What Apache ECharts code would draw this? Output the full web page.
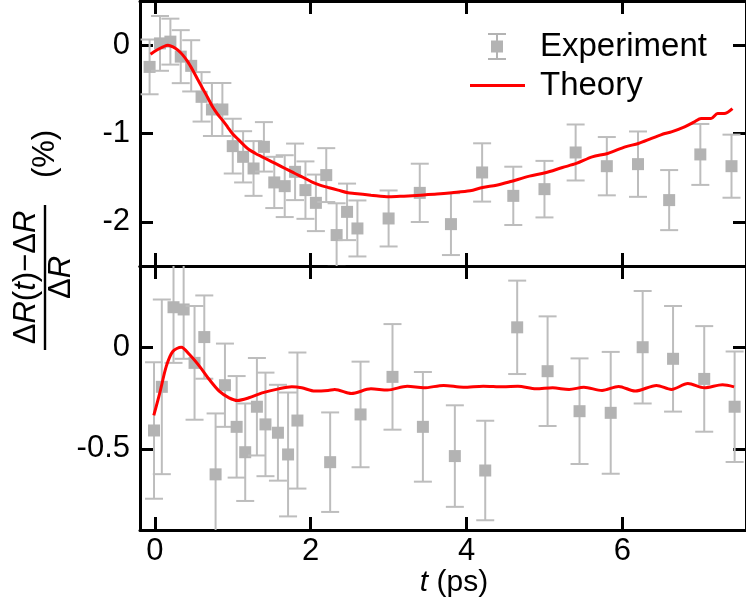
<!DOCTYPE html>
<html>
<head>
<meta charset="utf-8">
<script src="https://cdn.jsdelivr.net/npm/echarts@6/dist/echarts.min.js"></script>
<style>html,body{margin:0;padding:0;background:#fff;}#c{width:746px;height:609px;}</style>
</head>
<body>
<div id="c"></div>
<script>
// ---- data ----
const topT = [-0.067,0.067,0.2,0.333,0.467,0.6,0.733,0.867,1.0,1.133,1.267,1.4,1.533,1.667,1.8,1.933,2.067,2.2,2.333,2.467,2.6,3.0,3.4,3.8,4.2,4.6,5.0,5.4,5.8,6.2,6.6,7.0,7.4];
const topY = [-0.246,0.02,0.04,-0.13,-0.234,-0.585,-0.728,-0.728,-1.143,-1.264,-1.396,-1.151,-1.554,-1.596,-1.434,-1.641,-1.785,-1.471,-2.15,-1.887,-2.075,-1.962,-1.672,-2.026,-1.441,-1.706,-1.63,-1.215,-1.37,-1.347,-1.754,-1.237,-1.37];
const topErr = [0.31,0.31,0.26,0.30,0.29,0.28,0.30,0.30,0.31,0.29,0.31,0.28,0.29,0.35,0.32,0.325,0.32,0.305,0.36,0.32,0.317,0.317,0.33,0.35,0.33,0.33,0.32,0.317,0.33,0.37,0.34,0.345,0.357];

const botT = [-0.01,0.09,0.24,0.37,0.51,0.635,0.78,0.9,1.05,1.16,1.31,1.42,1.58,1.71,1.83,2.25,2.64,3.05,3.44,3.85,4.24,4.65,5.04,5.45,5.85,6.26,6.65,7.05,7.44];
const botY = [-0.41,-0.195,0.197,0.186,-0.077,0.05,-0.626,-0.187,-0.392,-0.517,-0.293,-0.38,-0.421,-0.528,-0.361,-0.566,-0.331,-0.146,-0.392,-0.536,-0.607,0.098,-0.118,-0.315,-0.323,0.0,-0.057,-0.156,-0.293];
const botErr = [0.336,0.43,0.274,0.243,0.28,0.205,0.30,0.205,0.25,0.24,0.24,0.255,0.236,0.305,0.335,0.245,0.26,0.26,0.27,0.25,0.245,0.23,0.27,0.26,0.30,0.277,0.26,0.26,0.272];

const topTheoryT = [-0.055,0.021,0.106,0.169,0.233,0.296,0.36,0.424,0.487,0.551,0.614,0.678,0.741,0.805,0.868,0.932,0.995,1.08,1.144,1.207,1.292,1.377,1.461,1.546,1.631,1.715,1.8,1.906,2.012,2.118,2.224,2.351,2.478,2.563,2.774,3.007,3.198,3.41,3.621,3.812,4.045,4.206,4.384,4.553,4.807,5.011,5.231,5.409,5.612,5.811,6.036,6.205,6.374,6.544,6.629,6.798,6.925,7.01,7.137,7.222,7.306,7.412];
const topTheoryY = [-0.102,-0.057,-0.019,0,-0.019,-0.057,-0.113,-0.189,-0.283,-0.389,-0.49,-0.592,-0.698,-0.781,-0.849,-0.924,-1.0,-1.075,-1.132,-1.181,-1.226,-1.264,-1.302,-1.339,-1.377,-1.415,-1.453,-1.498,-1.547,-1.585,-1.611,-1.641,-1.671,-1.679,-1.698,-1.717,-1.709,-1.698,-1.686,-1.671,-1.649,-1.611,-1.585,-1.547,-1.483,-1.445,-1.385,-1.339,-1.264,-1.226,-1.151,-1.113,-1.056,-1.0,-0.981,-0.924,-0.868,-0.83,-0.83,-0.773,-0.773,-0.717];

const botTheoryT = [-0.013,0.064,0.148,0.233,0.339,0.445,0.572,0.699,0.826,0.953,1.059,1.207,1.377,1.588,1.758,1.885,2.054,2.224,2.308,2.478,2.52,2.774,2.986,3.24,3.452,3.706,3.96,4.214,4.468,4.659,4.892,5.104,5.316,5.506,5.739,5.951,6.163,6.438,6.629,6.84,7.052,7.285,7.433];
const botTheoryY = [-0.336,-0.225,-0.093,-0.02,0.0,-0.036,-0.093,-0.159,-0.216,-0.249,-0.262,-0.249,-0.225,-0.205,-0.195,-0.2,-0.216,-0.213,-0.208,-0.225,-0.228,-0.205,-0.211,-0.192,-0.2,-0.188,-0.197,-0.192,-0.195,-0.192,-0.205,-0.2,-0.208,-0.197,-0.213,-0.193,-0.216,-0.188,-0.208,-0.179,-0.2,-0.185,-0.195];

const xTicks = [0, 2, 4, 6];
const topYTicks = [-2, -1, 0];
const botYTicks = [-0.5, 0];

// ---- styling ----
const FONT = 'Liberation Sans, Arial, sans-serif';
const SQ = '#b3b3b3', BAR = '#bdbdbd', RED = '#ff0000';
const X_MIN = -0.19, X_MAX = 7.586;

function zip3(a, b, c) { return a.map((v, i) => [v, b[i], c[i]]); }
function zip2(a, b) { return a.map((v, i) => [v, b[i]]); }

function renderErr(params, api) {
  const x = api.value(0), y = api.value(1), e = api.value(2);
  const p = api.coord([x, y]);
  const hi = api.coord([x, y + e]);
  const lo = api.coord([x, y - e]);
  const cap = 9, half = 6;
  const ls = { stroke: BAR, lineWidth: 2 };
  return {
    type: 'group',
    children: [
      { type: 'line', shape: { x1: p[0], y1: hi[1], x2: p[0], y2: lo[1] }, style: ls },
      { type: 'line', shape: { x1: p[0] - cap, y1: hi[1], x2: p[0] + cap, y2: hi[1] }, style: ls },
      { type: 'line', shape: { x1: p[0] - cap, y1: lo[1], x2: p[0] + cap, y2: lo[1] }, style: ls },
      { type: 'rect', shape: { x: p[0] - half, y: p[1] - half, width: 2 * half, height: 2 * half }, style: { fill: SQ } }
    ]
  };
}

const lineStyle = { color: '#000', width: 3 };
const tickStyle = { color: '#000', width: 3 };

function xAx(grid, pos, labels) {
  const a = {
    type: 'value', gridIndex: grid, position: pos, min: X_MIN, max: X_MAX,
    axisLine: { show: true, onZero: false, lineStyle: lineStyle },
    axisTick: { show: true, inside: true, length: 13, lineStyle: tickStyle, customValues: xTicks },
    axisLabel: { show: labels, customValues: xTicks, fontSize: 31, fontFamily: FONT, color: '#000', margin: 6 },
    splitLine: { show: false }
  };
  if (labels) {
    a.name = '{i|t} (ps)';
    a.nameLocation = 'middle';
    a.nameGap = 38;
    a.nameTextStyle = { fontSize: 30, fontFamily: FONT, color: '#000', padding: [0, 0, 0, 22],
      rich: { i: { fontStyle: 'italic', fontSize: 30, fontFamily: FONT, color: '#000' } } };
  }
  return a;
}
function yAx(grid, pos, labels, min, max, ticks) {
  return {
    type: 'value', gridIndex: grid, position: pos, min: min, max: max,
    axisLine: { show: true, onZero: false, lineStyle: lineStyle },
    axisTick: { show: true, inside: true, length: 13, lineStyle: tickStyle, customValues: ticks },
    axisLabel: { show: labels, customValues: ticks, fontSize: 31, fontFamily: FONT, color: '#000', margin: 10 },
    splitLine: { show: false }
  };
}

const expIcon = 'path://M0,0h18v2h-18z M8,0h2v27h-2z M0,25h18v2h-18z M3,7.5h12v12h-12z';
const lineIcon = 'path://M0,0h55v3h-55z';
const italic = { fontStyle: 'italic', fontSize: 31, fontFamily: FONT, fill: '#000' };

const option = {
  animation: false,
  backgroundColor: '#fff',
  grid: [
    { left: 140, top: 1, width: 612, height: 265 },
    { left: 140, top: 266, width: 612, height: 264 }
  ],
  xAxis: [xAx(0, 'bottom', false), xAx(0, 'top', false), xAx(1, 'bottom', true), xAx(1, 'top', false)],
  yAxis: [
    yAx(0, 'left', true, -2.5, 0.5, topYTicks), yAx(0, 'right', false, -2.5, 0.5, topYTicks),
    yAx(1, 'left', true, -0.9, 0.4, botYTicks), yAx(1, 'right', false, -0.9, 0.4, botYTicks)
  ],
  legend: [
    { data: [{ name: 'Experiment', icon: expIcon }], left: 488, top: 30, padding: 0,
      itemWidth: 18, itemHeight: 27, selectedMode: false,
      textStyle: { fontSize: 33, fontFamily: FONT, color: '#000', padding: [0, 0, 0, 29] } },
    { data: [{ name: 'Theory', icon: lineIcon }], left: 470, top: 69, padding: 0,
      itemWidth: 55, itemHeight: 3, selectedMode: false,
      itemStyle: { color: RED, borderWidth: 0 },
      textStyle: { fontSize: 33, fontFamily: FONT, color: '#000', padding: [0, 0, 0, 10] } }
  ],
  graphic: [{
    type: 'group', x: 45, y: 277.5, rotation: Math.PI / 2,
    children: [
      { type: 'text', x: 0, y: -19, style: { text: 'Δ{i|R}({i|t})−Δ{i|R}', fontSize: 31, fontFamily: FONT, fill: '#000',
          align: 'center', verticalAlign: 'middle', rich: { i: italic } } },
      { type: 'rect', shape: { x: -72.5, y: -1.2, width: 145, height: 2.4 }, style: { fill: '#000' } },
      { type: 'text', x: 0, y: 16, style: { text: 'Δ{i|R}', fontSize: 31, fontFamily: FONT, fill: '#000',
          align: 'center', verticalAlign: 'middle', rich: { i: italic } } },
      { type: 'text', x: 123.5, y: 0, style: { text: '(%)', fontSize: 31, fontFamily: FONT, fill: '#000',
          align: 'center', verticalAlign: 'middle' } }
    ]
  }],
  series: [
    { name: 'Experiment', type: 'custom', xAxisIndex: 0, yAxisIndex: 0, clip: true, z: 2,
      itemStyle: { color: SQ }, renderItem: renderErr, data: zip3(topT, topY, topErr) },
    { name: 'Theory', type: 'line', xAxisIndex: 0, yAxisIndex: 0, symbol: 'none', smooth: 0.3, z: 5,
      itemStyle: { color: RED }, lineStyle: { color: RED, width: 3 }, data: zip2(topTheoryT, topTheoryY) },
    { name: 'Experiment', type: 'custom', xAxisIndex: 2, yAxisIndex: 2, clip: true, z: 2,
      itemStyle: { color: SQ }, renderItem: renderErr, data: zip3(botT, botY, botErr) },
    { name: 'Theory', type: 'line', xAxisIndex: 2, yAxisIndex: 2, symbol: 'none', smooth: 0.3, z: 5,
      itemStyle: { color: RED }, lineStyle: { color: RED, width: 3 }, data: zip2(botTheoryT, botTheoryY) }
  ]
};

const chart = echarts.init(document.getElementById('c'), null, { renderer: 'canvas' });
chart.setOption(option);
</script>
</body>
</html>
